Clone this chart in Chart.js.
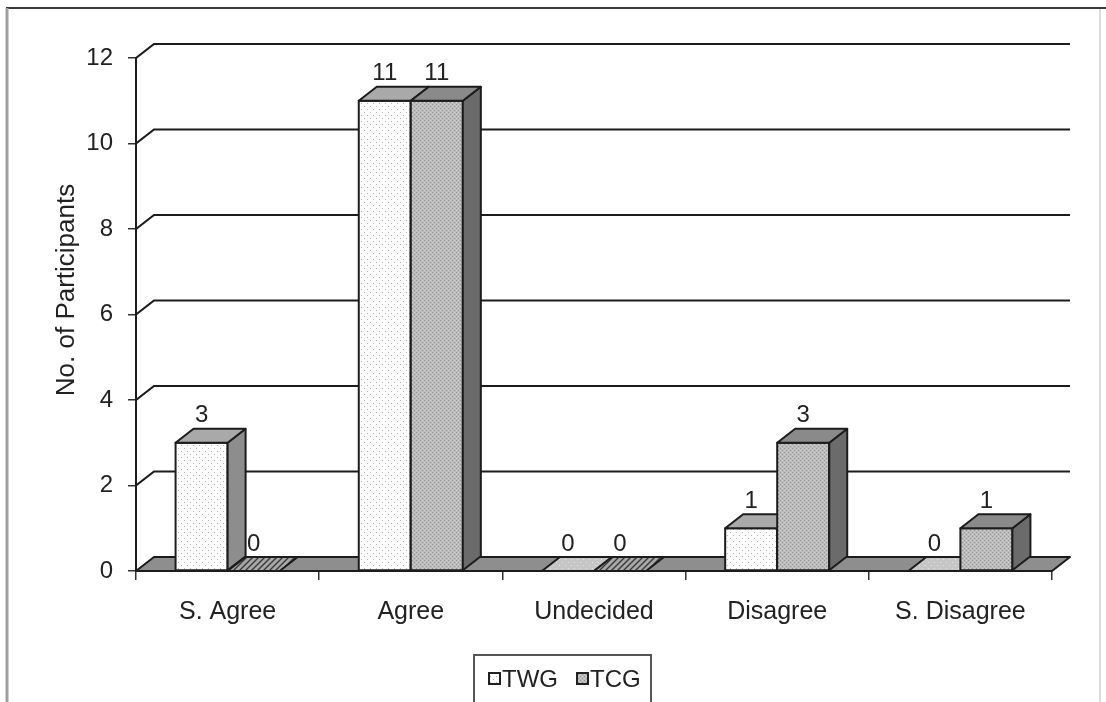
<!DOCTYPE html>
<html>
<head>
<meta charset="utf-8">
<script src="https://cdn.jsdelivr.net/npm/chart.js@4.4.1/dist/chart.umd.min.js"></script>
<style>
html,body{margin:0;padding:0;background:#fff;}
#wrap{position:relative;width:1106px;height:702px;}
canvas{display:block;}
</style>
</head>
<body>
<div id="wrap"><canvas id="c" width="1106" height="702"></canvas></div>
<script>
const categories = ["S. Agree", "Agree", "Undecided", "Disagree", "S. Disagree"];
const twgValues = [3, 11, 0, 1, 0];
const tcgValues = [0, 11, 0, 3, 1];
const seriesNames = ["TWG", "TCG"];
const yTicks = [0, 2, 4, 6, 8, 10, 12];
const yTitle = "No. of Participants";

const DX = 18, DY = -14;
const FONT = "Arial, 'Liberation Sans', sans-serif";

function makePattern(w, h, draw) {
  const c = document.createElement('canvas');
  c.width = w; c.height = h;
  const g = c.getContext('2d');
  draw(g);
  return document.getElementById('c').getContext('2d').createPattern(c, 'repeat');
}
const twgFront = makePattern(6, 6, g => {
  g.fillStyle = '#fcfcfc'; g.fillRect(0, 0, 6, 6);
  g.fillStyle = '#b4b4b4'; g.fillRect(1, 1, 1, 1); g.fillRect(4, 4, 1, 1);
});
const tcgFront = makePattern(4, 4, g => {
  g.fillStyle = '#bcbcbc'; g.fillRect(0, 0, 4, 4);
  g.fillStyle = '#939393'; g.fillRect(0, 0, 1, 1); g.fillRect(2, 2, 1, 1);
  g.fillStyle = '#d2d2d2'; g.fillRect(2, 0, 1, 1); g.fillRect(0, 2, 1, 1);
});
const tcgZeroTop = makePattern(6, 6, g => {
  g.fillStyle = '#a8a8a8'; g.fillRect(0, 0, 6, 6);
  g.strokeStyle = '#3a3a3a'; g.lineWidth = 1.4;
  g.beginPath(); g.moveTo(-1, 7); g.lineTo(7, -1); g.stroke();
  g.beginPath(); g.moveTo(-4, 4); g.lineTo(4, -4); g.stroke();
  g.beginPath(); g.moveTo(2, 10); g.lineTo(10, 2); g.stroke();
});
const twgZeroTop = makePattern(6, 6, g => {
  g.fillStyle = '#c6c6c6'; g.fillRect(0, 0, 6, 6);
  g.fillStyle = '#e2e2e2'; g.fillRect(1, 1, 1, 1); g.fillRect(4, 4, 1, 1);
});
const styles = [
  {front: twgFront, top: '#a9a9a9', side: '#8d8d8d', zeroTop: twgZeroTop},
  {front: tcgFront, top: '#8a8a8a', side: '#6b6b6b', zeroTop: tcgZeroTop}
];

function poly(ctx, pts, fill) {
  ctx.beginPath();
  ctx.moveTo(pts[0][0], pts[0][1]);
  for (let i = 1; i < pts.length; i++) ctx.lineTo(pts[i][0], pts[i][1]);
  ctx.closePath();
  ctx.fillStyle = fill; ctx.fill();
  ctx.strokeStyle = '#1c1c1c'; ctx.lineWidth = 2; ctx.lineJoin = 'round';
  ctx.stroke();
}

const threeD = {
  id: 'threeD',
  beforeDraw(chart) {
    const ctx = chart.ctx;
    ctx.save();
    ctx.fillStyle = '#ffffff';
    ctx.fillRect(0, 0, chart.width, chart.height);
    ctx.strokeStyle = '#3a3a3a'; ctx.lineWidth = 2;
    ctx.beginPath(); ctx.moveTo(6, 8); ctx.lineTo(1106, 8); ctx.stroke();
    ctx.strokeStyle = '#a0a0a0'; ctx.lineWidth = 3;
    ctx.beginPath(); ctx.moveTo(7, 8); ctx.lineTo(7, 702); ctx.stroke();
    ctx.strokeStyle = '#dddddd'; ctx.lineWidth = 2;
    ctx.beginPath(); ctx.moveTo(1100, 9); ctx.lineTo(1100, 702); ctx.stroke();
    ctx.restore();
  },
  beforeDatasetsDraw(chart) {
    const ctx = chart.ctx;
    const ys = chart.scales.y;
    const area = chart.chartArea;
    ctx.save();
    // back wall gridlines
    ctx.strokeStyle = '#1c1c1c'; ctx.lineWidth = 2.2;
    yTicks.forEach(v => {
      if (v === 0) return;
      const y = ys.getPixelForValue(v);
      ctx.beginPath();
      ctx.moveTo(area.left, y);
      ctx.lineTo(area.left + DX, y + DY);
      ctx.lineTo(area.right + DX, y + DY);
      ctx.stroke();
    });
    // floor
    const y0 = ys.getPixelForValue(0);
    poly(ctx, [[area.left, y0], [area.right, y0], [area.right + DX, y0 + DY], [area.left + DX, y0 + DY]], '#8e8e8e');
    // bars
    const metas = [chart.getDatasetMeta(0), chart.getDatasetMeta(1)];
    for (let j = 0; j < categories.length; j++) {
      for (let d = 0; d < 2; d++) {
        const el = metas[d].data[j];
        const p = el.getProps(['x', 'y', 'base', 'width'], true);
        const l = p.x - p.width / 2, r = p.x + p.width / 2;
        const top = p.y, base = p.base;
        const st = styles[d];
        if (base - top > 0.5) {
          poly(ctx, [[l, top], [r, top], [r, base], [l, base]], st.front);
          poly(ctx, [[r, top], [r + DX, top + DY], [r + DX, base + DY], [r, base]], st.side);
          poly(ctx, [[l, top], [r, top], [r + DX, top + DY], [l + DX, top + DY]], st.top);
        } else {
          poly(ctx, [[l, top], [r, top], [r + DX, top + DY], [l + DX, top + DY]], st.zeroTop);
        }
      }
    }
    // value labels
    ctx.fillStyle = '#222';
    ctx.font = '24px ' + FONT;
    ctx.textAlign = 'center'; ctx.textBaseline = 'middle';
    for (let d = 0; d < 2; d++) {
      const vals = d === 0 ? twgValues : tcgValues;
      metas[d].data.forEach((el, j) => {
        const p = el.getProps(['x', 'y'], true);
        ctx.fillText(String(vals[j]), p.x, p.y + DY - 13);
      });
    }
    ctx.restore();
  },
  afterDraw(chart) {
    const ctx = chart.ctx;
    ctx.save();
    // y title
    ctx.fillStyle = '#222';
    ctx.font = '26px ' + FONT;
    ctx.textAlign = 'center'; ctx.textBaseline = 'middle';
    ctx.translate(67, 290);
    ctx.rotate(-Math.PI / 2);
    ctx.fillText(yTitle, 0, 0);
    ctx.restore();
    // legend
    ctx.save();
    ctx.strokeStyle = '#555'; ctx.lineWidth = 2;
    ctx.fillStyle = '#fff';
    ctx.fillRect(474, 655, 177, 60);
    ctx.strokeRect(474, 655, 177, 60);
    const sw = [[489, twgFront, 'TWG'], [577, tcgFront, 'TCG']];
    sw.forEach(([x, pat, name]) => {
      ctx.fillStyle = pat;
      ctx.fillRect(x, 673, 11, 11);
      ctx.strokeStyle = '#222'; ctx.lineWidth = 2;
      ctx.strokeRect(x, 673, 11, 11);
      ctx.fillStyle = '#222';
      ctx.font = '24px ' + FONT;
      ctx.textAlign = 'left'; ctx.textBaseline = 'middle';
      ctx.fillText(name, x + 13, 680);
    });
    ctx.restore();
  }
};

new Chart(document.getElementById('c'), {
  type: 'bar',
  data: {
    labels: categories,
    datasets: [
      {label: seriesNames[0], data: twgValues, backgroundColor: 'rgba(0,0,0,0)', borderWidth: 0},
      {label: seriesNames[1], data: tcgValues, backgroundColor: 'rgba(0,0,0,0)', borderWidth: 0}
    ]
  },
  options: {
    responsive: false,
    animation: false,
    devicePixelRatio: 1,
    categoryPercentage: 0.568,
    barPercentage: 1,
    layout: {padding: {top: 58, right: 54, left: 0, bottom: 0}},
    plugins: {legend: {display: false}, tooltip: {enabled: false}},
    scales: {
      x: {
        afterFit(s) { s.height = 131; },
        grid: {display: true, drawOnChartArea: false, offset: true, tickLength: 9, color: '#333', lineWidth: 1.5},
        border: {display: true, color: '#1c1c1c', width: 2},
        ticks: {font: {size: 25, family: FONT}, color: '#222', padding: 17, maxRotation: 0}
      },
      y: {
        min: 0, max: 12,
        afterFit(s) { s.width = 136; },
        afterBuildTicks(s) { s.ticks = yTicks.map(v => ({value: v})); },
        grid: {display: true, drawOnChartArea: false, tickLength: 8, color: '#333', lineWidth: 1.5},
        border: {display: true, color: '#1c1c1c', width: 2},
        ticks: {font: {size: 24, family: FONT}, color: '#222', padding: 15}
      }
    }
  },
  plugins: [threeD]
});
</script>
</body>
</html>
